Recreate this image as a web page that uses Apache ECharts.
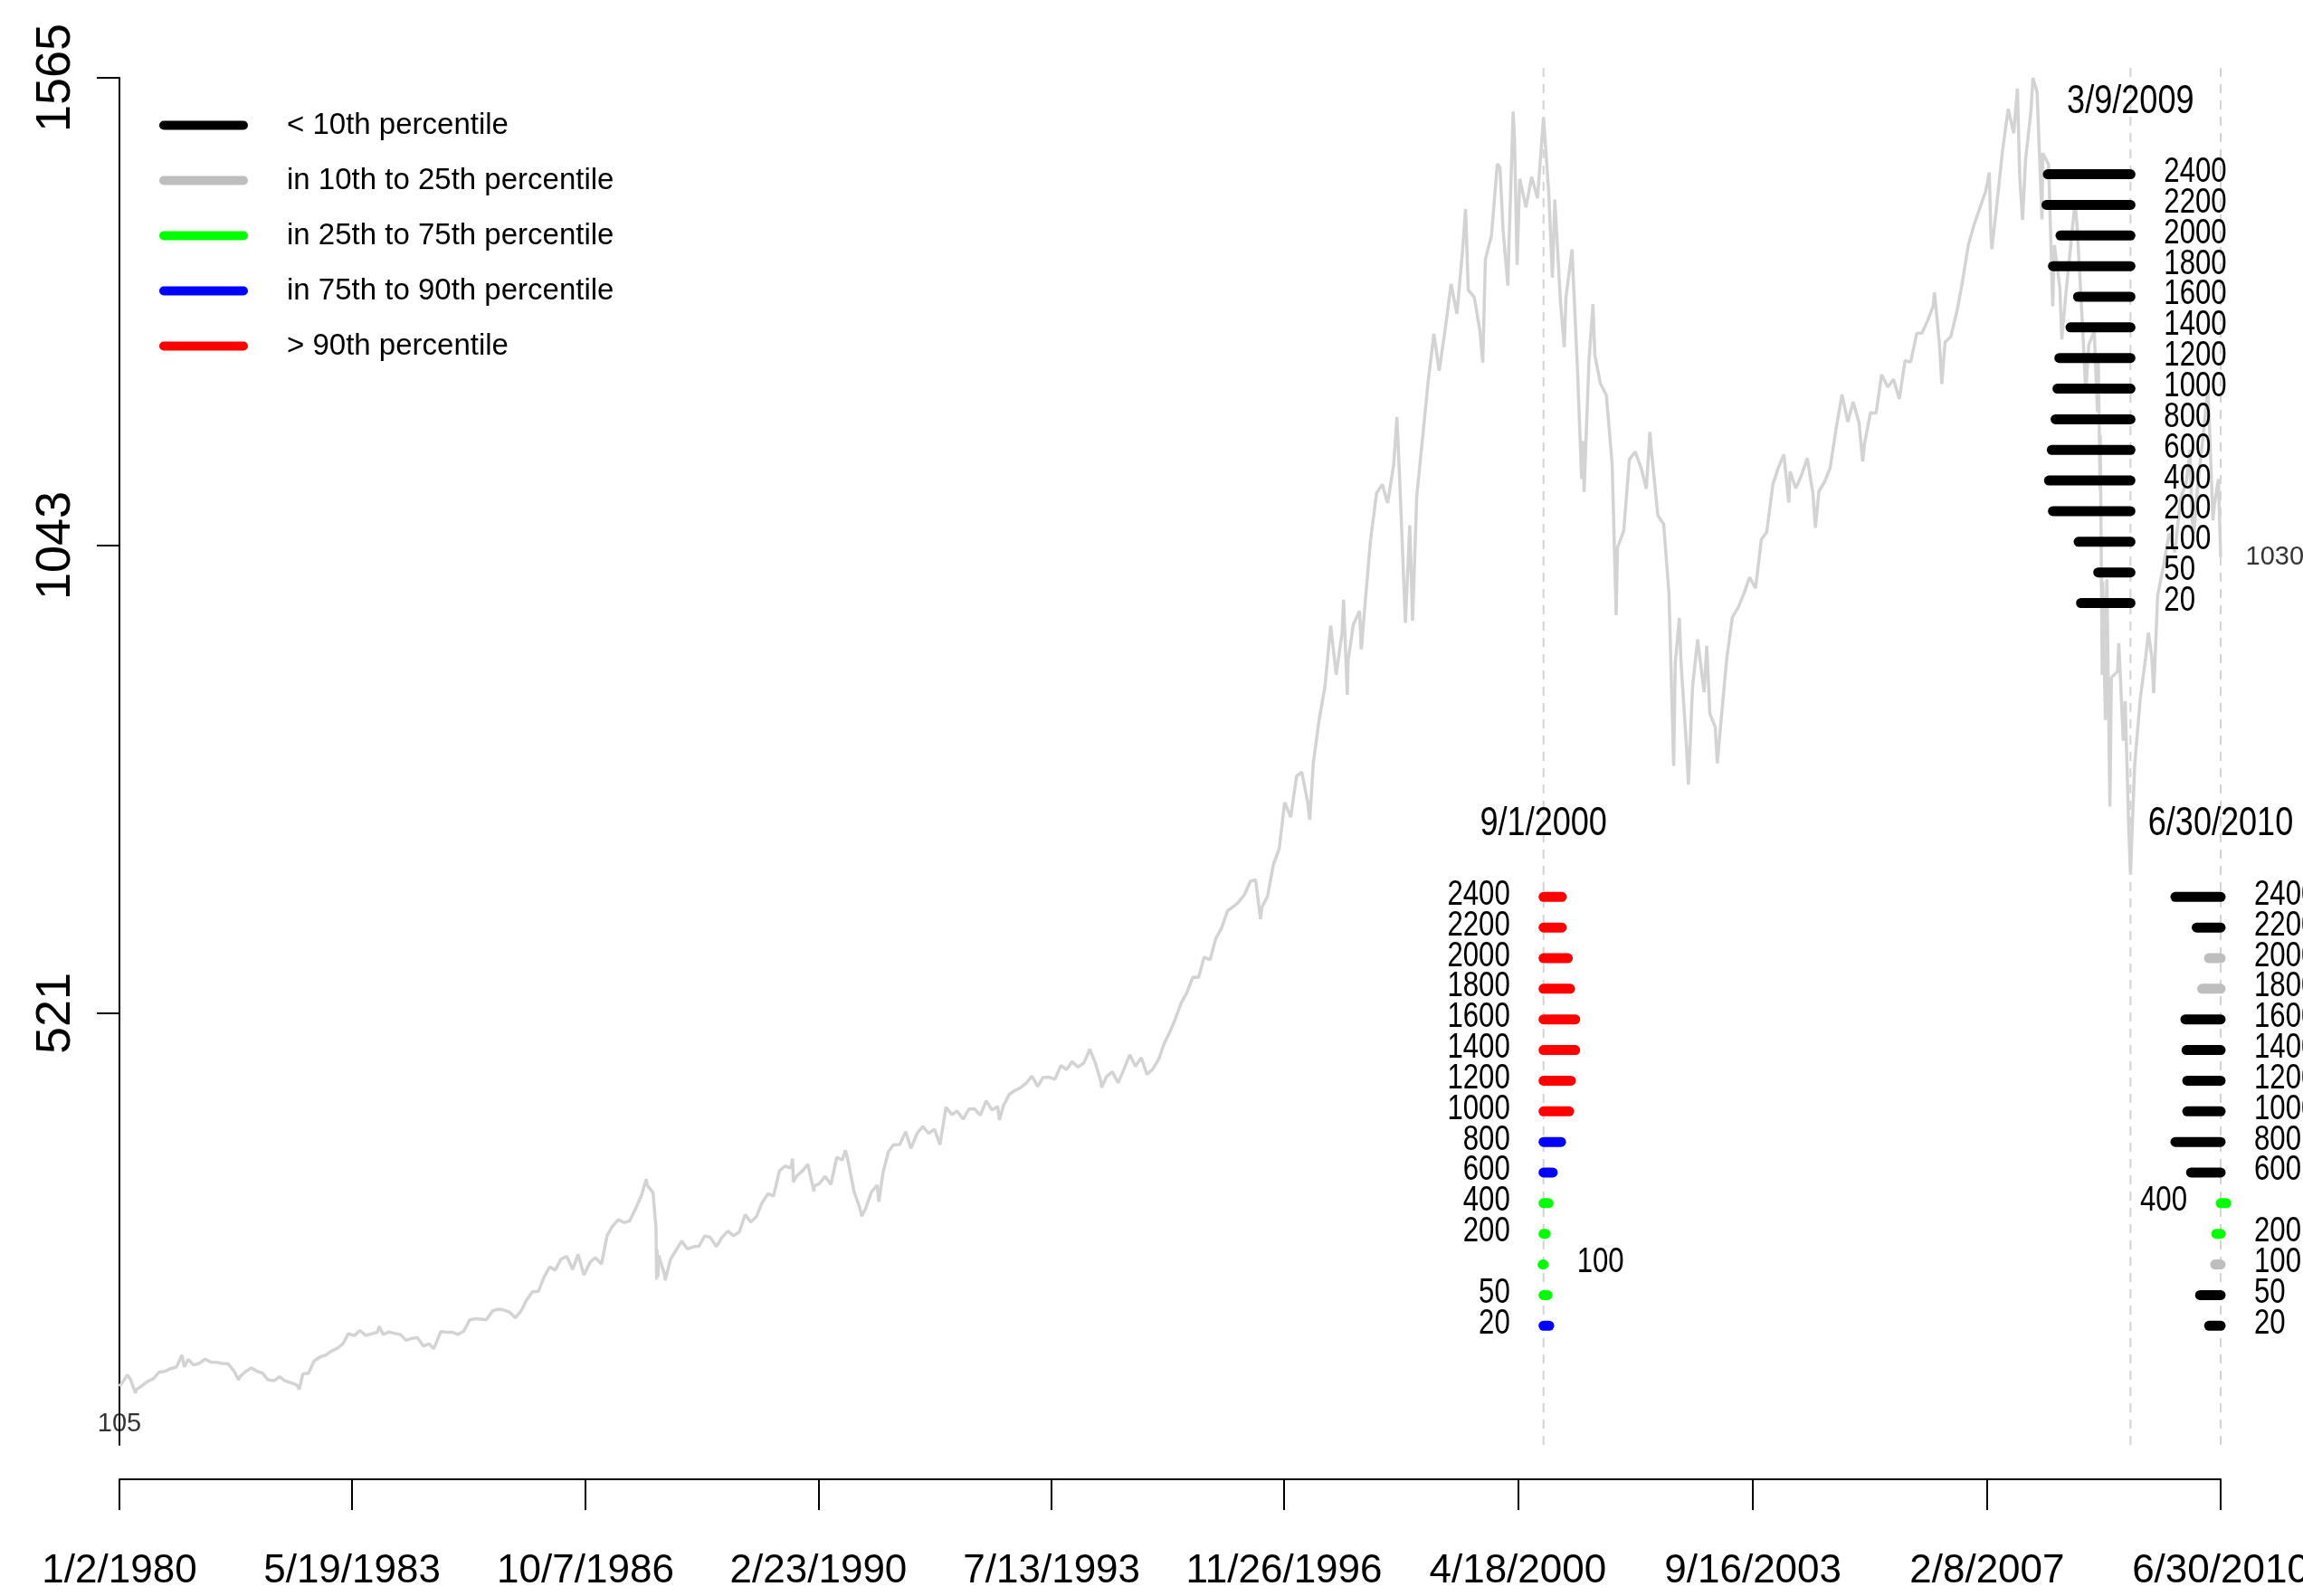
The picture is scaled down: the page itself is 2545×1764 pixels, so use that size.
<!DOCTYPE html>
<html>
<head>
<meta charset="utf-8">
<script src="https://cdn.jsdelivr.net/npm/echarts@6/dist/echarts.min.js"></script>
<style>
  html, body { margin: 0; padding: 0; background: #ffffff; }
  #chart { width: 2545px; height: 1764px; }
</style>
</head>
<body>
<div id="chart"></div>
<script>
// S&P 500 closes: month ends plus the main intra-month turning points
const spxCloses = [
  ['1980-01-02',105.76],['1980-01-31',114.16],['1980-02-13',118.44],['1980-02-29',113.66],['1980-03-27',98.22],
  ['1980-03-31',102.09],['1980-04-30',106.29],['1980-05-30',111.24],['1980-06-30',114.24],['1980-07-31',121.67],
  ['1980-08-29',122.38],['1980-09-30',125.46],['1980-10-31',127.47],['1980-11-28',140.52],['1980-12-11',127.36],
  ['1980-12-31',135.76],
  ['1981-01-30',129.55],['1981-02-27',131.27],['1981-03-31',136.00],['1981-04-30',132.81],['1981-05-29',132.59],
  ['1981-06-30',131.21],['1981-07-31',130.92],['1981-08-31',122.79],['1981-09-25',112.77],['1981-09-30',116.18],
  ['1981-10-30',121.89],['1981-11-30',126.35],['1981-12-31',122.55],
  ['1982-01-29',120.40],['1982-02-26',113.11],['1982-03-31',111.96],['1982-04-30',116.44],['1982-05-28',111.88],
  ['1982-06-30',109.61],['1982-07-30',107.09],['1982-08-12',102.42],['1982-08-31',119.51],['1982-09-30',120.42],
  ['1982-10-29',133.71],['1982-11-30',138.54],['1982-12-31',140.64],
  ['1983-01-31',145.30],['1983-02-28',148.06],['1983-03-31',152.96],['1983-04-29',164.42],['1983-05-31',162.39],
  ['1983-06-30',168.11],['1983-07-29',162.56],['1983-08-31',164.40],['1983-09-30',166.07],['1983-10-10',172.65],
  ['1983-10-31',163.55],['1983-11-30',166.40],['1983-12-30',164.93],
  ['1984-01-31',163.41],['1984-02-29',157.06],['1984-03-30',159.18],['1984-04-30',160.05],['1984-05-31',150.55],
  ['1984-06-29',153.18],['1984-07-24',147.82],['1984-07-31',150.66],['1984-08-31',166.68],['1984-09-28',166.10],
  ['1984-10-31',166.09],['1984-11-30',163.58],['1984-12-31',167.24],
  ['1985-01-31',179.63],['1985-02-28',181.18],['1985-03-29',180.66],['1985-04-30',179.83],['1985-05-31',189.55],
  ['1985-06-28',191.85],['1985-07-31',190.92],['1985-08-30',188.63],['1985-09-30',182.08],['1985-10-31',189.82],
  ['1985-11-29',202.17],['1985-12-31',211.28],
  ['1986-01-31',211.78],['1986-02-28',226.92],['1986-03-31',238.90],['1986-04-30',235.52],['1986-05-30',247.35],
  ['1986-06-30',250.84],['1986-07-31',236.12],['1986-08-29',252.93],['1986-09-29',229.91],['1986-09-30',231.32],
  ['1986-10-31',243.98],['1986-11-28',249.22],['1986-12-31',242.17],
  ['1987-01-30',274.08],['1987-02-27',284.20],['1987-03-31',291.70],['1987-04-30',288.36],['1987-05-29',290.10],
  ['1987-06-30',304.00],['1987-07-31',318.66],['1987-08-25',336.77],['1987-08-31',329.80],['1987-09-30',321.83],
  ['1987-10-16',282.70],['1987-10-19',224.84],['1987-10-21',258.38],['1987-10-26',227.67],['1987-10-30',251.79],
  ['1987-11-30',230.30],['1987-12-04',223.92],['1987-12-31',247.08],
  ['1988-01-29',257.07],['1988-02-29',267.82],['1988-03-31',258.89],['1988-04-29',261.33],['1988-05-31',262.16],
  ['1988-06-30',273.50],['1988-07-29',272.02],['1988-08-31',261.52],['1988-09-30',271.91],['1988-10-31',278.97],
  ['1988-11-30',273.70],['1988-12-30',277.72],
  ['1989-01-31',297.47],['1989-02-28',288.86],['1989-03-31',294.87],['1989-04-28',309.64],['1989-05-31',320.52],
  ['1989-06-30',317.98],['1989-07-31',346.08],['1989-08-31',351.45],['1989-09-29',349.15],['1989-10-09',359.80],
  ['1989-10-13',333.65],['1989-10-31',340.36],['1989-11-30',345.99],['1989-12-29',353.40],
  ['1990-01-30',322.98],['1990-01-31',329.08],['1990-02-28',331.89],['1990-03-30',339.94],['1990-04-30',330.80],
  ['1990-05-31',361.23],['1990-06-29',358.02],['1990-07-16',368.95],['1990-07-31',356.15],['1990-08-31',322.56],
  ['1990-09-28',306.05],['1990-10-11',295.46],['1990-10-31',304.00],['1990-11-30',322.22],['1990-12-31',330.22],
  ['1991-01-09',311.49],['1991-01-31',343.93],['1991-02-28',367.07],['1991-03-28',375.22],['1991-04-30',375.35],
  ['1991-05-31',389.83],['1991-06-28',371.16],['1991-07-31',387.81],['1991-08-30',395.43],['1991-09-30',387.86],
  ['1991-10-31',392.46],['1991-11-29',375.22],['1991-12-31',417.09],
  ['1992-01-31',408.79],['1992-02-28',412.70],['1992-03-31',403.69],['1992-04-30',414.95],['1992-05-29',415.35],
  ['1992-06-30',408.14],['1992-07-31',424.21],['1992-08-31',414.03],['1992-09-30',417.80],['1992-10-09',402.66],
  ['1992-10-30',418.68],['1992-11-30',431.35],['1992-12-31',435.71],
  ['1993-01-29',438.78],['1993-02-26',443.38],['1993-03-31',451.67],['1993-04-30',440.19],['1993-05-28',450.19],
  ['1993-06-30',450.53],['1993-07-30',448.13],['1993-08-31',463.56],['1993-09-30',458.93],['1993-10-29',467.83],
  ['1993-11-30',461.79],['1993-12-31',466.45],
  ['1994-01-31',481.61],['1994-02-02',482.00],['1994-02-28',467.14],['1994-03-31',445.77],['1994-04-04',438.92],
  ['1994-04-29',450.91],['1994-05-31',456.50],['1994-06-30',444.27],['1994-07-29',458.26],['1994-08-31',475.49],
  ['1994-09-30',462.69],['1994-10-31',472.35],['1994-11-30',453.69],['1994-12-30',459.27],
  ['1995-01-31',470.42],['1995-02-28',487.39],['1995-03-31',500.71],['1995-04-28',514.71],['1995-05-31',533.40],
  ['1995-06-30',544.75],['1995-07-31',562.06],['1995-08-31',561.88],['1995-09-29',584.41],['1995-10-31',581.50],
  ['1995-11-30',605.37],['1995-12-29',615.93],
  ['1996-01-31',636.02],['1996-02-29',640.43],['1996-03-29',645.50],['1996-04-30',654.17],['1996-05-31',669.12],
  ['1996-06-28',670.63],['1996-07-24',626.65],['1996-07-31',639.95],['1996-08-30',651.99],['1996-09-30',687.33],
  ['1996-10-31',705.27],['1996-11-29',757.02],['1996-12-31',740.74],
  ['1997-01-31',786.16],['1997-02-28',790.82],['1997-03-31',757.12],['1997-04-11',737.65],['1997-04-30',801.34],
  ['1997-05-30',848.28],['1997-06-30',885.14],['1997-07-31',954.29],['1997-08-29',899.47],['1997-09-30',947.28],
  ['1997-10-07',983.12],['1997-10-27',876.99],['1997-10-31',914.62],['1997-11-28',955.40],['1997-12-31',970.43],
  ['1998-01-09',927.69],['1998-01-30',980.28],['1998-02-27',1049.34],['1998-03-31',1101.75],['1998-04-30',1111.75],
  ['1998-05-29',1090.82],['1998-06-30',1133.84],['1998-07-17',1186.75],['1998-07-31',1120.67],['1998-08-31',957.28],
  ['1998-09-23',1066.09],['1998-09-30',1017.01],['1998-10-08',959.44],['1998-10-30',1098.67],['1998-11-30',1163.63],
  ['1998-12-31',1229.23],
  ['1999-01-29',1279.64],['1999-02-26',1238.33],['1999-03-31',1286.37],['1999-04-30',1335.18],['1999-05-31',1301.84],
  ['1999-06-30',1372.71],['1999-07-16',1418.78],['1999-07-30',1328.72],['1999-08-31',1320.41],['1999-09-30',1282.71],
  ['1999-10-15',1247.41],['1999-10-29',1362.93],['1999-11-30',1388.91],['1999-12-31',1469.25],
  ['2000-01-14',1465.15],['2000-01-31',1394.46],['2000-02-25',1333.36],['2000-02-29',1366.42],['2000-03-24',1527.46],
  ['2000-03-31',1498.58],['2000-04-14',1356.56],['2000-04-28',1452.43],['2000-05-31',1420.60],['2000-06-30',1454.60],
  ['2000-07-31',1430.83],['2000-08-31',1517.68],['2000-09-01',1520.77],['2000-09-29',1436.51],['2000-10-18',1342.13],
  ['2000-10-31',1429.40],['2000-11-30',1314.95],['2000-12-20',1264.74],['2000-12-29',1320.28],
  ['2001-01-30',1373.73],['2001-02-28',1239.94],['2001-03-22',1117.58],['2001-03-30',1160.33],['2001-04-04',1103.25],
  ['2001-04-30',1249.46],['2001-05-21',1312.83],['2001-05-31',1255.82],['2001-06-29',1224.38],['2001-07-31',1211.23],
  ['2001-08-31',1133.58],['2001-09-21',965.80],['2001-09-28',1040.94],['2001-10-31',1059.78],['2001-11-30',1139.45],
  ['2001-12-31',1148.08],
  ['2002-01-31',1130.20],['2002-02-28',1106.73],['2002-03-19',1170.29],['2002-03-28',1147.39],['2002-04-30',1076.92],
  ['2002-05-31',1067.14],['2002-06-28',989.82],['2002-07-23',797.70],['2002-07-31',911.62],['2002-08-22',962.70],
  ['2002-08-30',916.07],['2002-09-30',815.28],['2002-10-09',776.76],['2002-10-31',885.76],['2002-11-27',938.87],
  ['2002-12-31',879.82],
  ['2003-01-14',931.66],['2003-01-31',855.70],['2003-02-28',841.15],['2003-03-11',800.73],['2003-03-31',848.18],
  ['2003-04-30',916.92],['2003-05-30',963.59],['2003-06-30',974.50],['2003-07-31',990.31],['2003-08-29',1008.01],
  ['2003-09-30',995.97],['2003-10-31',1050.71],['2003-11-28',1058.20],['2003-12-31',1111.92],
  ['2004-01-30',1131.13],['2004-02-27',1144.94],['2004-03-24',1091.33],['2004-03-31',1126.21],['2004-04-30',1107.30],
  ['2004-05-28',1120.68],['2004-06-30',1140.84],['2004-07-30',1101.72],['2004-08-12',1063.23],['2004-08-31',1104.24],
  ['2004-09-30',1114.58],['2004-10-29',1130.20],['2004-11-30',1173.82],['2004-12-31',1211.92],
  ['2005-01-31',1181.27],['2005-02-28',1203.60],['2005-03-31',1180.59],['2005-04-20',1137.50],['2005-04-29',1156.85],
  ['2005-05-31',1191.50],['2005-06-30',1191.33],['2005-07-29',1234.18],['2005-08-31',1220.33],['2005-09-30',1228.81],
  ['2005-10-31',1207.01],['2005-11-30',1249.48],['2005-12-30',1248.29],
  ['2006-01-31',1280.08],['2006-02-28',1280.66],['2006-03-31',1294.83],['2006-04-28',1310.61],['2006-05-05',1325.76],
  ['2006-05-31',1270.09],['2006-06-13',1223.69],['2006-06-30',1270.20],['2006-07-31',1276.66],['2006-08-31',1303.82],
  ['2006-09-29',1335.85],['2006-10-31',1377.94],['2006-11-30',1400.63],['2006-12-29',1418.30],
  ['2007-01-31',1438.24],['2007-02-20',1459.68],['2007-02-27',1399.04],['2007-03-05',1374.12],['2007-03-30',1420.86],
  ['2007-04-30',1482.37],['2007-05-31',1530.62],['2007-06-29',1503.35],['2007-07-19',1553.08],['2007-07-31',1455.27],
  ['2007-08-15',1406.70],['2007-08-31',1473.99],['2007-09-28',1526.75],['2007-10-09',1565.15],['2007-10-31',1549.38],
  ['2007-11-26',1407.22],['2007-11-30',1481.14],['2007-12-31',1468.36],
  ['2008-01-22',1310.50],['2008-01-31',1378.55],['2008-02-29',1330.63],['2008-03-10',1273.37],['2008-03-31',1322.70],
  ['2008-04-30',1385.59],['2008-05-19',1426.63],['2008-05-30',1400.38],['2008-06-30',1280.00],['2008-07-15',1214.91],
  ['2008-07-31',1267.38],['2008-08-29',1282.83],['2008-09-15',1192.70],['2008-09-19',1255.08],['2008-09-29',1106.39],
  ['2008-09-30',1166.36],['2008-10-10',899.22],['2008-10-13',1003.35],['2008-10-27',848.92],['2008-10-31',968.75],
  ['2008-11-04',1005.75],['2008-11-20',752.44],['2008-11-28',896.24],['2008-12-31',903.25],
  ['2009-01-06',934.70],['2009-01-30',825.88],['2009-02-09',869.89],['2009-02-27',735.09],['2009-03-09',676.53],
  ['2009-03-31',797.87],['2009-04-30',872.81],['2009-05-29',919.14],['2009-06-12',946.21],['2009-06-30',919.32],
  ['2009-07-10',879.13],['2009-07-31',987.48],['2009-08-31',1020.62],['2009-09-30',1057.08],['2009-10-30',1036.19],
  ['2009-11-30',1095.63],['2009-12-31',1115.10],
  ['2010-01-19',1150.23],['2010-01-29',1073.87],['2010-02-08',1056.74],['2010-02-26',1104.49],['2010-03-31',1169.43],
  ['2010-04-23',1217.28],['2010-04-30',1186.69],['2010-05-20',1071.59],['2010-05-28',1089.41],['2010-06-18',1117.51],
  ['2010-06-30',1030.71]
];

// Axis ticks
const xTickLabels = ['1/2/1980', '5/19/1983', '10/7/1986', '2/23/1990', '7/13/1993',
                     '11/26/1996', '4/18/2000', '9/16/2003', '2/8/2007', '6/30/2010'];
const yTickValues = [521.72, 1043.43, 1565.15];

// Look-back windows (trading days), listed top row first
const windowSizes = [2400, 2200, 2000, 1800, 1600, 1400, 1200, 1000, 800, 600, 400, 200, 100, 50, 20];

// Snapshot dates
const snapshotDates = ['9/1/2000', '3/9/2009', '6/30/2010'];

// Percentile bucket of each window's return: 0 <10th, 1 10-25th, 2 25-75th, 3 75-90th, 4 >90th
const bucketsSep2000 = [4, 4, 4, 4, 4, 4, 4, 4, 3, 3, 2, 2, 2, 2, 3];
const bucketsMar2009 = [0, 0, 0, 0, 0, 0, 0, 0, 0, 0, 0, 0, 0, 0, 0];
const bucketsJun2010 = [0, 0, 1, 1, 0, 0, 0, 0, 0, 0, 2, 2, 1, 0, 0];

// Signed bar spans in calendar days (positive extends forward in time)
const spansSep2000 = [97, 97, 129, 141, 168, 168, 145, 136, 93, 49, 27, 11, -5, 21, 30];
const spansMar2009 = [-438, -445, -371, -411, -278, -318, -377, -387, -397, -417, -432, -411, -275, -171, -262];
const spansJun2010 = [-240, -127, -62, -98, -187, -181, -177, -177, -240, -157, 30, -23, -29, -109, -61];

const bucketNames = ['< 10th percentile', 'in 10th to 25th percentile', 'in 25th to 75th percentile',
                     'in 75th to 90th percentile', '> 90th percentile'];
const bucketColors = ['#000000', '#bebebe', '#00ff00', '#0000ff', '#ff0000'];

// ---- layout / style ----
const DAY_MS = 86400000;
const FONT = "'Liberation Sans', Arial, sans-serif";
const CONDENSE = 0.82;                  // horizontal squeeze for the annotation text
const Y_MIN = 40.4, Y_MAX = 1565.15;
const GUIDE_TOP = 1578;                 // upper end of the dashed date guides
const ROW_STEP = 34.16;                 // vertical spacing of window rows (index points)
const clusterTopLevel = [651.6, 1457.6, 651.6];
const BAR_WIDTH = 11;
const LABEL_GAP = 37;
const TITLE_LIFT = 80;

function toTs(s) {
  if (s.indexOf('/') >= 0) {
    const p = s.split('/').map(Number);
    return Date.UTC(p[2], p[0] - 1, p[1]);
  }
  const p = s.split('-').map(Number);
  return Date.UTC(p[0], p[1] - 1, p[2]);
}

const xTickValues = xTickLabels.map(toTs);
const snapshotTs = snapshotDates.map(toTs);
const clusters = [
  { buckets: bucketsSep2000, spans: spansSep2000 },
  { buckets: bucketsMar2009, spans: spansMar2009 },
  { buckets: bucketsJun2010, spans: spansJun2010 }
];

const lineData = spxCloses.map(d => [toTs(d[0]), d[1]]);

// bars grouped by percentile bucket
const barsByBucket = bucketNames.map(() => []);
const labelRows = [];
clusters.forEach((c, ci) => {
  windowSizes.forEach((w, ri) => {
    const level = clusterTopLevel[ci] - ri * ROW_STEP;
    barsByBucket[c.buckets[ri]].push([snapshotTs[ci], c.spans[ri], level]);
    labelRows.push([snapshotTs[ci], c.spans[ri], level, w]);
  });
});
const titleRows = snapshotTs.map((t, i) => [t, clusterTopLevel[i], i]);
const guideRows = snapshotTs.map(t => [t, Y_MIN, GUIDE_TOP]);

function renderBar(params, api) {
  const t = api.value(0), span = api.value(1), level = api.value(2);
  const a = api.coord([t, level]);
  const b = api.coord([t + span * DAY_MS, level]);
  return {
    type: 'line',
    shape: { x1: a[0], y1: a[1], x2: b[0], y2: b[1] },
    style: { stroke: api.visual('color'), lineWidth: BAR_WIDTH, lineCap: 'round' }
  };
}

function renderGuide(params, api) {
  const a = api.coord([api.value(0), api.value(1)]);
  const b = api.coord([api.value(0), api.value(2)]);
  return {
    type: 'line',
    shape: { x1: a[0], y1: a[1], x2: b[0], y2: b[1] },
    style: { stroke: '#d3d3d3', lineWidth: 2, lineDash: [10, 8] }
  };
}

// the window label sits on the side opposite to the bar
function renderWindowLabel(params, api) {
  const t = api.value(0), span = api.value(1), level = api.value(2), w = api.value(3);
  const p = api.coord([t, level]);
  const left = span > 0;
  return {
    type: 'text',
    x: p[0] + (left ? -LABEL_GAP : LABEL_GAP),
    y: p[1] - 2,
    scaleX: CONDENSE,
    style: {
      text: String(w), fill: '#000', fontSize: 38, fontFamily: FONT,
      align: left ? 'right' : 'left', verticalAlign: 'middle'
    }
  };
}

function renderTitle(params, api) {
  const p = api.coord([api.value(0), api.value(1)]);
  return {
    type: 'text',
    x: p[0],
    y: p[1] - TITLE_LIFT,
    scaleX: CONDENSE,
    style: {
      text: snapshotDates[api.value(2)], fill: '#000', fontSize: 44, fontFamily: FONT,
      align: 'center', verticalAlign: 'middle'
    }
  };
}

const CAPSULE = 'path://M5,0L93,0A5,5,0,0,1,93,10L5,10A5,5,0,0,1,5,0Z';

const first = lineData[0];
const last = lineData[lineData.length - 1];

const chart = echarts.init(document.getElementById('chart'), null, { renderer: 'canvas' });
chart.setOption({
  animation: false,
  backgroundColor: '#ffffff',
  grid: { left: 132, right: 91, top: 86, bottom: 167, containLabel: false, outerBoundsMode: 'none' },
  legend: {
    orient: 'vertical', left: 171, top: 117,
    itemWidth: 98, itemHeight: 10, itemGap: 28,
    selectedMode: false,
    data: bucketNames.map(n => ({ name: n, icon: CAPSULE })),
    textStyle: { fontFamily: FONT, fontSize: 33, color: '#000', lineHeight: 33, padding: [0, 0, 0, 38] }
  },
  xAxis: {
    type: 'value',
    min: toTs('1980-01-02'), max: toTs('2010-06-30'),
    offset: 38,
    splitLine: { show: false },
    axisLine: { show: true, lineStyle: { color: '#000', width: 2 } },
    axisTick: { show: true, length: 34, customValues: xTickValues, lineStyle: { color: '#000', width: 2 } },
    axisLabel: {
      customValues: xTickValues, margin: 80, hideOverlap: false,
      fontFamily: FONT, fontSize: 44, color: '#000',
      formatter: v => {
        let best = 0;
        xTickValues.forEach((t, i) => { if (Math.abs(t - v) < Math.abs(xTickValues[best] - v)) best = i; });
        return xTickLabels[best];
      }
    }
  },
  yAxis: {
    type: 'value',
    min: Y_MIN, max: Y_MAX,
    splitLine: { show: false },
    axisLine: { show: true, lineStyle: { color: '#000', width: 2 } },
    axisTick: { show: true, length: 25, customValues: yTickValues, lineStyle: { color: '#000', width: 2 } },
    axisLabel: {
      customValues: yTickValues, rotate: 90, margin: 43, hideOverlap: false,
      fontFamily: FONT, fontSize: 54, color: '#000',
      formatter: v => String(Math.floor(v))
    }
  },
  series: [
    {
      name: 'date guides',
      type: 'custom',
      renderItem: renderGuide,
      encode: { x: 0, y: 1 },
      data: guideRows,
      silent: true,
      z: 1
    },
    {
      name: 'S&P 500',
      type: 'line',
      data: lineData,
      showSymbol: false,
      silent: true,
      lineStyle: { color: '#d3d3d3', width: 3.5 },
      z: 2
    },
    {
      name: 'endpoints',
      type: 'scatter',
      silent: true,
      symbolSize: 1,
      itemStyle: { color: 'rgba(0,0,0,0)' },
      z: 3,
      data: [
        { value: first, label: { show: true, position: 'bottom', distance: 27, formatter: String(Math.floor(first[1])) } },
        { value: last, label: { show: true, position: 'right', distance: 27, formatter: String(Math.floor(last[1])) } }
      ],
      label: { fontFamily: FONT, fontSize: 29, color: '#000' }
    },
    ...bucketNames.map((n, i) => ({
      name: n,
      type: 'custom',
      renderItem: renderBar,
      encode: { x: 0, y: 2 },
      itemStyle: { color: bucketColors[i] },
      data: barsByBucket[i],
      silent: true,
      z: 4
    })),
    {
      name: 'window labels',
      type: 'custom',
      renderItem: renderWindowLabel,
      encode: { x: 0, y: 2 },
      data: labelRows,
      silent: true,
      z: 5
    },
    {
      name: 'snapshot titles',
      type: 'custom',
      renderItem: renderTitle,
      encode: { x: 0, y: 1 },
      data: titleRows,
      silent: true,
      z: 5
    }
  ]
});
</script>
</body>
</html>
